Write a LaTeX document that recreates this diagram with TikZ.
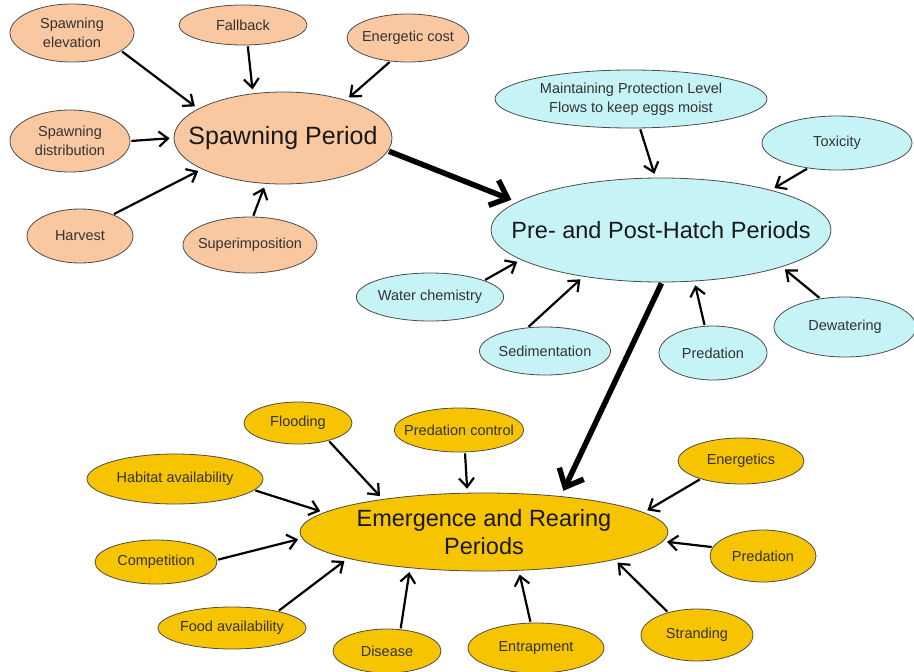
\documentclass[tikz,border=0pt]{standalone}
\usepackage{fontspec}
\setmainfont{Liberation Sans}
\usetikzlibrary{shapes.geometric,arrows.meta}
\definecolor{peach}{HTML}{F9C8A0}
\definecolor{aqua}{HTML}{C6F3F5}
\definecolor{gold}{HTML}{F6C400}
\begin{document}
\begin{tikzpicture}[x=1pt, y=-1pt,
    bubble/.style={ellipse, draw=black!70, line width=0.8pt, inner sep=0pt, align=center, font=\fontsize{14.5}{19}\selectfont, text=black!80},
    hub/.style={ellipse, draw=black!70, line width=0.8pt, inner sep=0pt},
    hubtext/.style={align=center, inner sep=0pt, font=\fontsize{23.5}{28}\selectfont, text=black!90},
    feed/.style={-{Straight Barb[length=9pt,width=15pt]}, line width=2.2pt, shorten <=1pt, shorten >=4pt},
    flow/.style={-{Straight Barb[length=15pt,width=27pt]}, line width=5.5pt, shorten <=1pt, shorten >=6pt}]
    \useasboundingbox (0,0) rectangle (914,672);

    % Spawning Period
    \node[hub, fill=peach, minimum width=218pt, minimum height=92pt,
          label={[hubtext, font=\fontsize{25}{30}\selectfont]center:Spawning Period}] (spawn) at (283,138) {};
    \node[bubble, fill=peach, minimum width=124pt, minimum height=58pt] (elev) at (72,33) {Spawning\\elevation};
    \node[bubble, fill=peach, minimum width=128pt, minimum height=40pt] (fall) at (243,25) {Fallback};
    \node[bubble, fill=peach, minimum width=122pt, minimum height=48pt, inner xsep=-3pt] (cost) at (408,38) {Energetic cost};
    \node[bubble, fill=peach, minimum width=120pt, minimum height=62pt] (dist) at (70,141) {Spawning\\distribution};
    \node[bubble, fill=peach, minimum width=106pt, minimum height=54pt] (harv) at (80,236) {Harvest};
    \node[bubble, fill=peach, minimum width=134pt, minimum height=56pt, inner xsep=-6pt] (super) at (250,245) {Superimposition};

    % Pre- and Post-Hatch Periods
    \node[hub, fill=aqua, minimum width=340pt, minimum height=104pt,
          label={[hubtext]center:Pre- and Post-Hatch Periods}] (hatch) at (661,230) {};
    \node[bubble, fill=aqua, minimum width=272pt, minimum height=58pt] (moist) at (631,99) {Maintaining Protection Level\\Flows to keep eggs moist};
    \node[bubble, fill=aqua, minimum width=150pt, minimum height=54pt] (tox) at (837,143) {Toxicity};
    \node[bubble, fill=aqua, minimum width=146pt, minimum height=48pt] (chem) at (430,297) {Water chemistry};
    \node[bubble, fill=aqua, minimum width=128pt, minimum height=48pt] (sed) at (545,351) {Sedimentation};
    \node[bubble, fill=aqua, minimum width=108pt, minimum height=54pt] (pred1) at (713,353) {Predation};
    \node[bubble, fill=aqua, minimum width=142pt, minimum height=60pt] (dewat) at (845,327) {Dewatering};

    % Emergence and Rearing Periods
    \node[hub, fill=gold, minimum width=368pt, minimum height=78pt,
          label={[hubtext]center:Emergence and Rearing\\Periods}] (rear) at (484,532) {};
    \node[bubble, fill=gold, minimum width=108pt, minimum height=42pt] (flood) at (298,423) {Flooding};
    \node[bubble, fill=gold, minimum width=126pt, minimum height=44pt, inner xsep=-9pt] (pctl) at (459,430) {Predation control};
    \node[bubble, fill=gold, minimum width=176pt, minimum height=50pt] (habit) at (175,479) {Habitat availability};
    \node[bubble, fill=gold, minimum width=122pt, minimum height=44pt] (comp) at (156,562) {Competition};
    \node[bubble, fill=gold, minimum width=148pt, minimum height=42pt] (food) at (232,628) {Food availability};
    \node[bubble, fill=gold, minimum width=108pt, minimum height=44pt] (dis) at (387,651) {Disease};
    \node[bubble, fill=gold, minimum width=136pt, minimum height=50pt] (trap) at (536,648) {Entrapment};
    \node[bubble, fill=gold, minimum width=112pt, minimum height=52pt] (strand) at (697,635) {Stranding};
    \node[bubble, fill=gold, minimum width=106pt, minimum height=52pt] (pred2) at (763,556) {Predation};
    \node[bubble, fill=gold, minimum width=126pt, minimum height=46pt] (energ) at (741,461) {Energetics};

    % Factors
    \draw[feed] (elev.-20) -- (spawn.161);
    \draw[feed] (fall.-77) -- (spawn.124);
    \draw[feed] (cost.-127) -- (spawn.31);
    \draw[feed] (dist.0) -- (spawn.180);
    \draw[feed] (harv.33) -- (spawn.201);
    \draw[feed] (super.84) -- (spawn.249);
    \draw[feed] (moist.-73) -- (hatch.96);
    \draw[feed] (tox.-139) -- (hatch.20);
    \draw[feed] (chem.17) -- (hatch.192);
    \draw[feed] (sed.126) -- (hatch.211);
    \draw[feed] (pred1.107) -- (hatch.-57);
    \draw[feed] (dewat.131) -- (hatch.-17);
    \draw[feed] (flood.-30) -- (rear.162);
    \draw[feed] (pctl.-75) -- (rear.113);
    \draw[feed] (habit.-8) -- (rear.173);
    \draw[feed] (comp.2) -- (rear.182);
    \draw[feed] (food.20) -- (rear.191);
    \draw[feed] (dis.58) -- (rear.206);
    \draw[feed] (trap.102) -- (rear.-48);
    \draw[feed] (strand.142) -- (rear.-12);
    \draw[feed] (pred2.170) -- (rear.-3);
    \draw[feed] (energ.-156) -- (rear.7);

    % Life stages
    \draw[flow] (spawn.-7) -- (hatch.169);
    \draw[flow] (hatch.-89) -- (rear.25);
\end{tikzpicture}
\end{document}
